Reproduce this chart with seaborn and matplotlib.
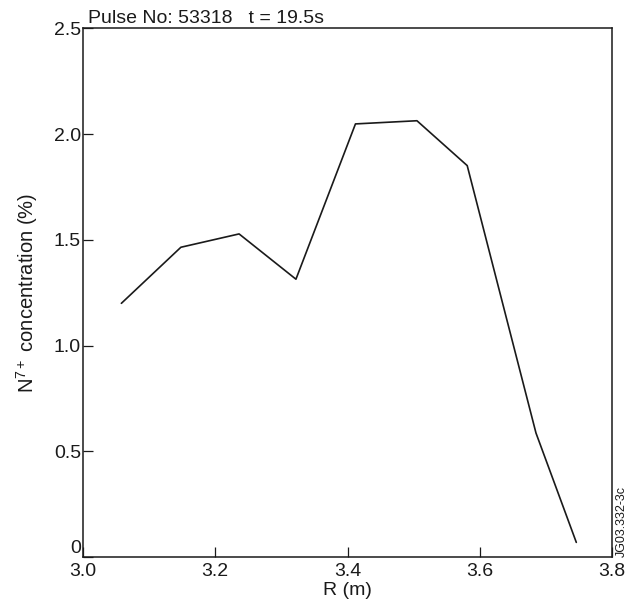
import matplotlib
matplotlib.use("Agg")
import matplotlib.pyplot as plt
import seaborn as sns
import pandas as pd

# N7+ concentration profile, pulse 53318 at t = 19.5 s
radius_m = [3.058, 3.148, 3.236, 3.322, 3.412, 3.505, 3.581, 3.685, 3.746]
conc_pct = [1.20, 1.465, 1.528, 1.314, 2.048, 2.063, 1.851, 0.587, 0.070]

x_ticks = [3.0, 3.2, 3.4, 3.6, 3.8]
y_ticks = [0, 0.5, 1.0, 1.5, 2.0, 2.5]
y_tick_labels = ["0", "0.5", "1.0", "1.5", "2.0", "2.5"]

df = pd.DataFrame({"R": radius_m, "conc": conc_pct})

sns.set_style("ticks")
plt.rcParams["font.family"] = ["Liberation Sans", "DejaVu Sans"]
plt.rcParams["mathtext.fontset"] = "custom"
plt.rcParams["mathtext.rm"] = "Liberation Sans"
plt.rcParams["mathtext.it"] = "Liberation Sans"

fig = plt.figure(figsize=(6.29, 6.15), dpi=100)
ax = fig.add_axes([0.132, 0.094, 0.841, 0.860])

sns.lineplot(data=df, x="R", y="conc", ax=ax, color="#1a1a1a", linewidth=1.2)

ax.set_xlim(3.0, 3.8)
ax.set_ylim(0, 2.5)
ax.set_xticks(x_ticks)
ax.set_xticklabels([f"{t:.1f}" for t in x_ticks])
ax.set_yticks(y_ticks)
ax.set_yticklabels(y_tick_labels)

for side in ["top", "right", "left", "bottom"]:
    ax.spines[side].set_visible(True)
    ax.spines[side].set_linewidth(1.1)
    ax.spines[side].set_color("#1a1a1a")

ax.tick_params(axis="both", direction="in", length=7, width=0.9,
               labelsize=14, colors="#1a1a1a")
ax.tick_params(axis="y", pad=1.5)
ax.tick_params(axis="x", pad=4.5)

# the "0" sits just above the corner, as in the original figure
ax.get_yticklabels()[0].set_va("bottom")

ax.set_xlabel("R (m)", fontsize=14, color="#1a1a1a", labelpad=1)
ax.set_ylabel(r"N$^{7+}$ concentration (%)", fontsize=14.5, color="#1a1a1a", labelpad=10)

ax.text(0.01, 1.003, "Pulse No: 53318   t = 19.5s", transform=ax.transAxes,
        fontsize=14, ha="left", va="bottom", color="#1a1a1a")
ax.text(1.008, 0.0, "JG03.332-3c", transform=ax.transAxes, rotation=90,
        fontsize=9, ha="left", va="bottom", color="#1a1a1a")

fig.savefig("out.png", dpi=100)
